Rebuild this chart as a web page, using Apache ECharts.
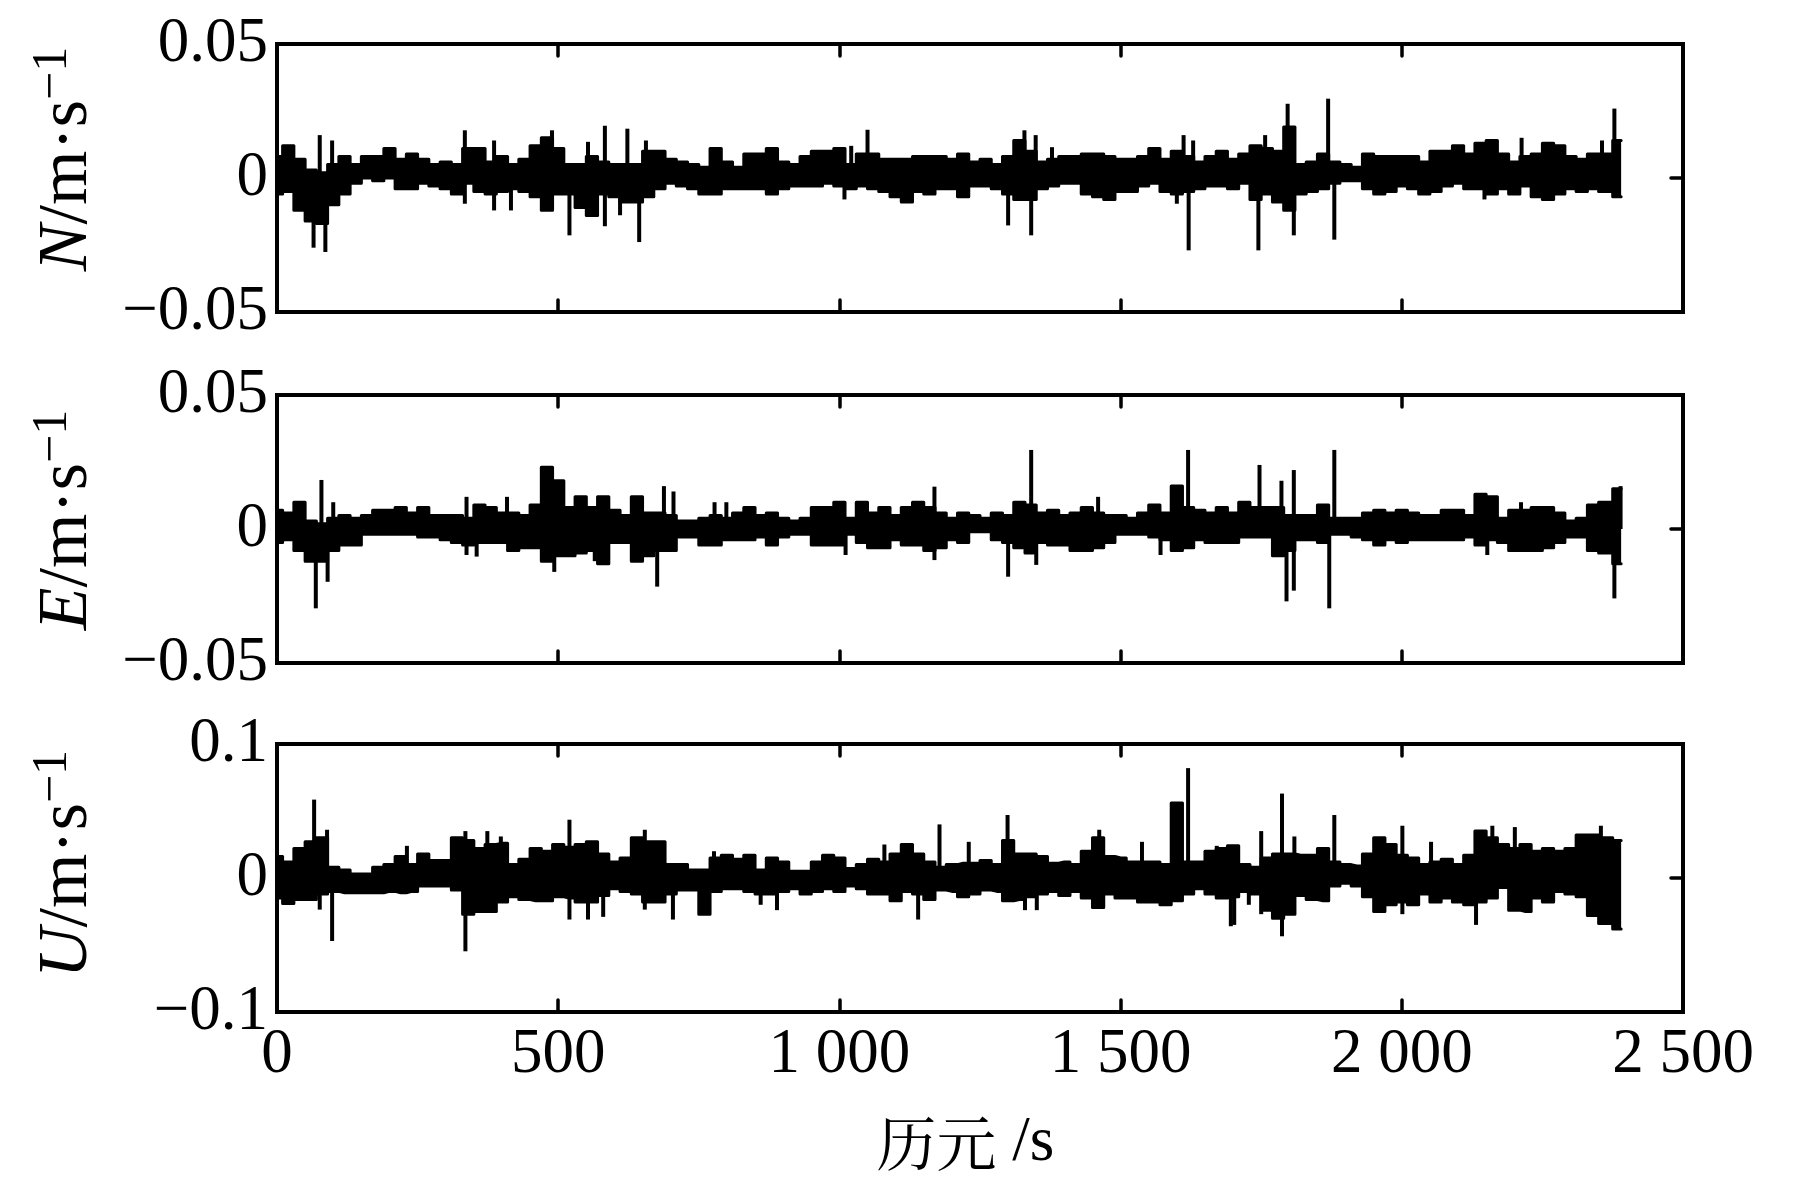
<!DOCTYPE html>
<html><head><meta charset="utf-8">
<script src="https://cdn.jsdelivr.net/npm/echarts@6/dist/echarts.min.js"></script>
<style>html,body{margin:0;padding:0;background:#fff}#c{width:1795px;height:1181px}</style>
</head><body><div id="c"></div>
<script>
// ---- data (epoch bins of 20 s, envelope of the dense trace) ----
const BIN = 20;
const lastEpoch = 2390;

const nHi = [0.008,0.012,0.007,0.003,0.002,0.005,0.008,0.005,0.008,0.008,0.011,0.007,0.009,0.007,0.005,0.006,0.005,0.011,0.011,0.006,
0.008,0.005,0.007,0.012,0.015,0.011,0.005,0.005,0.008,0.006,0.005,0.005,0.005,0.010,0.010,0.007,0.006,0.005,0.004,0.011,
0.006,0.004,0.009,0.009,0.011,0.006,0.005,0.008,0.010,0.010,0.011,0.005,0.009,0.009,0.007,0.007,0.007,0.008,0.008,0.008,
0.007,0.009,0.006,0.007,0.005,0.008,0.014,0.010,0.006,0.007,0.008,0.008,0.009,0.009,0.008,0.007,0.007,0.008,0.011,0.007,
0.010,0.008,0.006,0.008,0.010,0.007,0.009,0.012,0.011,0.010,0.019,0.005,0.006,0.009,0.006,0.005,0.004,0.009,0.008,0.008,
0.008,0.008,0.006,0.010,0.010,0.012,0.009,0.013,0.014,0.009,0.006,0.008,0.009,0.013,0.012,0.008,0.007,0.009,0.009,0.014];
const nLo = [-0.006,-0.005,-0.012,-0.016,-0.017,-0.010,-0.006,-0.002,0.000,-0.001,0.000,-0.004,-0.004,-0.002,-0.003,-0.004,-0.006,-0.002,-0.005,-0.006,
-0.005,-0.004,-0.005,-0.007,-0.012,-0.006,-0.006,-0.011,-0.014,-0.006,-0.007,-0.009,-0.009,-0.007,-0.004,-0.002,-0.003,-0.004,-0.006,-0.006,
-0.004,-0.004,-0.004,-0.004,-0.006,-0.004,-0.003,-0.003,-0.003,-0.002,-0.003,-0.004,-0.003,-0.004,-0.005,-0.007,-0.009,-0.005,-0.006,-0.004,
-0.004,-0.007,-0.003,-0.003,-0.004,-0.006,-0.008,-0.008,-0.004,-0.003,-0.002,-0.002,-0.006,-0.007,-0.008,-0.005,-0.005,-0.003,-0.002,-0.005,
-0.006,-0.005,-0.004,-0.003,-0.003,-0.004,-0.002,-0.008,-0.006,-0.009,-0.012,-0.006,-0.005,-0.004,-0.002,-0.001,-0.001,-0.004,-0.006,-0.005,
-0.003,-0.004,-0.006,-0.005,-0.003,-0.002,-0.004,-0.004,-0.006,-0.004,-0.006,-0.003,-0.007,-0.008,-0.006,-0.004,-0.005,-0.004,-0.005,-0.007];
const nSpikes = [[65,-0.026],[76,0.016],[86,-0.0276],[98,0.014],[334,0.0178],[334,-0.0096],[386,0.014],[386,-0.0121],[416,-0.0121],
[489,0.0178],[520,-0.0214],[553,0.0135],[583,0.0195],[583,-0.018],[610,-0.0139],[623,0.0184],[644,-0.0239],[656,0.014],
[1009,-0.008],[1021,0.012],[1050,0.018],[1300,-0.0177],[1329,0.0178],[1341,-0.0214],[1349,0.016],[1378,0.0115],
[1600,-0.0096],[1612,0.016],[1621,-0.027],[1629,0.014],[1745,-0.027],[1757,0.016],[1797,0.0277],[1808,-0.0214],
[1869,0.0296],[1880,-0.023],[2147,-0.008],[2213,0.015],[2356,0.014],[2378,0.0259]];

const eHi = [0.007,0.006,0.010,0.003,0.002,0.004,0.005,0.004,0.005,0.007,0.007,0.008,0.006,0.008,0.005,0.005,0.005,0.004,0.009,0.008,
0.006,0.006,0.005,0.009,0.023,0.018,0.008,0.012,0.008,0.012,0.007,0.005,0.012,0.006,0.006,0.005,0.003,0.003,0.004,0.005,
0.004,0.006,0.008,0.005,0.006,0.004,0.003,0.004,0.008,0.008,0.010,0.004,0.010,0.006,0.008,0.005,0.008,0.010,0.008,0.006,
0.004,0.006,0.005,0.004,0.006,0.005,0.010,0.009,0.006,0.007,0.005,0.006,0.008,0.006,0.005,0.005,0.004,0.006,0.009,0.006,
0.016,0.008,0.007,0.006,0.008,0.006,0.010,0.008,0.008,0.008,0.005,0.005,0.005,0.009,0.004,0.004,0.004,0.006,0.007,0.006,
0.007,0.006,0.005,0.005,0.007,0.007,0.005,0.013,0.012,0.004,0.007,0.007,0.008,0.008,0.006,0.003,0.004,0.009,0.010,0.015];
const eLo = [-0.005,-0.004,-0.008,-0.012,-0.012,-0.008,-0.006,-0.006,-0.002,-0.002,-0.002,-0.002,-0.002,-0.003,-0.003,-0.004,-0.005,-0.006,-0.005,-0.005,
-0.005,-0.008,-0.007,-0.007,-0.012,-0.010,-0.010,-0.009,-0.008,-0.013,-0.005,-0.005,-0.012,-0.010,-0.008,-0.008,-0.003,-0.003,-0.006,-0.006,
-0.004,-0.004,-0.004,-0.003,-0.006,-0.003,-0.002,-0.002,-0.006,-0.006,-0.006,-0.002,-0.005,-0.007,-0.007,-0.004,-0.006,-0.006,-0.008,-0.007,
-0.004,-0.005,-0.001,-0.001,-0.004,-0.005,-0.007,-0.009,-0.005,-0.006,-0.006,-0.008,-0.008,-0.007,-0.005,-0.002,-0.002,-0.002,-0.003,-0.004,
-0.008,-0.007,-0.004,-0.005,-0.005,-0.005,-0.003,-0.003,-0.003,-0.010,-0.008,-0.004,-0.004,-0.005,-0.002,-0.002,-0.003,-0.004,-0.006,-0.004,
-0.005,-0.004,-0.004,-0.004,-0.004,-0.004,-0.003,-0.006,-0.004,-0.005,-0.008,-0.008,-0.008,-0.007,-0.005,-0.003,-0.003,-0.008,-0.009,-0.013];
const eSpikes = [[69,-0.0296],[79,0.0183],[90,-0.0197],[100,0.010],[337,0.012],[337,-0.0097],[355,-0.0103],[409,0.012],
[493,-0.016],[565,-0.012],[676,-0.0215],[688,0.016],[705,0.014],[778,0.010],[799,0.010],[1011,-0.0097],[1169,0.0158],
[1169,-0.0116],[1300,-0.0178],[1341,0.0295],[1350,-0.0134],[1460,0.012],[1571,-0.0097],[1620,0.0295],[1747,0.0239],
[1786,0.018],[1795,-0.027],[1808,0.022],[1808,-0.023],[1871,-0.0296],[1880,0.0295],[2152,-0.0097],[2212,0.010],
[2378,-0.0259],[2389,0.016]];

const uHi = [0.016,0.012,0.022,0.027,0.030,0.008,0.006,0.003,0.003,0.008,0.010,0.016,0.010,0.018,0.013,0.013,0.030,0.028,0.022,0.025,
0.026,0.010,0.014,0.022,0.020,0.025,0.023,0.025,0.027,0.018,0.012,0.015,0.030,0.027,0.027,0.010,0.010,0.006,0.006,0.015,
0.017,0.014,0.017,0.006,0.015,0.012,0.005,0.005,0.012,0.017,0.015,0.007,0.010,0.014,0.012,0.018,0.025,0.018,0.012,0.008,
0.010,0.011,0.011,0.013,0.010,0.028,0.018,0.018,0.016,0.011,0.012,0.010,0.020,0.030,0.016,0.015,0.012,0.012,0.012,0.010,
0.056,0.012,0.012,0.020,0.022,0.024,0.010,0.008,0.015,0.018,0.018,0.017,0.017,0.022,0.012,0.010,0.009,0.018,0.030,0.025,
0.017,0.015,0.010,0.012,0.014,0.010,0.017,0.035,0.030,0.025,0.022,0.025,0.020,0.022,0.020,0.022,0.032,0.032,0.030,0.028];
const uLo = [-0.015,-0.019,-0.016,-0.016,-0.012,-0.010,-0.011,-0.011,-0.011,-0.011,-0.010,-0.011,-0.010,-0.006,-0.006,-0.006,-0.009,-0.027,-0.025,-0.025,
-0.018,-0.014,-0.016,-0.017,-0.017,-0.014,-0.015,-0.018,-0.018,-0.013,-0.008,-0.010,-0.012,-0.018,-0.018,-0.012,-0.009,-0.009,-0.027,-0.010,
-0.008,-0.008,-0.010,-0.012,-0.012,-0.010,-0.008,-0.012,-0.010,-0.008,-0.010,-0.006,-0.008,-0.012,-0.012,-0.017,-0.010,-0.012,-0.016,-0.009,
-0.010,-0.014,-0.012,-0.009,-0.010,-0.017,-0.016,-0.014,-0.012,-0.010,-0.013,-0.010,-0.015,-0.022,-0.012,-0.015,-0.015,-0.018,-0.018,-0.020,
-0.017,-0.012,-0.008,-0.012,-0.015,-0.014,-0.010,-0.012,-0.024,-0.030,-0.027,-0.013,-0.016,-0.017,-0.006,-0.004,-0.006,-0.014,-0.025,-0.020,
-0.018,-0.020,-0.012,-0.018,-0.015,-0.018,-0.020,-0.018,-0.015,-0.007,-0.024,-0.025,-0.015,-0.018,-0.010,-0.012,-0.014,-0.028,-0.034,-0.038];
const uSpikes = [[66,0.0585],[76,-0.0236],[89,0.036],[98,-0.047],[231,0.024],[335,-0.0547],[335,0.035],[374,0.035],[398,0.031],
[520,0.0435],[520,-0.031],[553,-0.031],[580,-0.029],[654,0.036],[654,-0.0236],[704,-0.031],[777,0.020],[860,-0.020],
[889,-0.024],[1080,0.025],[1140,-0.031],[1178,0.040],[1230,0.027],[1299,0.047],[1330,-0.024],[1351,-0.024],[1462,0.036],
[1538,0.027],[1620,0.082],[1671,0.024],[1696,-0.036],[1702,-0.035],[1728,-0.020],[1750,0.035],[1750,-0.027],[1787,0.063],
[1787,-0.0435],[1809,0.031],[1880,0.047],[2001,0.039],[2001,-0.027],[2052,0.027],[2132,-0.035],[2161,0.039],[2201,0.038],[2354,0.039]];

const panels = [
  { letter: 'N', hi: nHi, lo: nLo, spikes: nSpikes, min: -0.05, max: 0.05, step: 0.05, shift: 38 },
  { letter: 'E', hi: eHi, lo: eLo, spikes: eSpikes, min: -0.05, max: 0.05, step: 0.05, shift: 18 },
  { letter: 'U', hi: uHi, lo: uLo, spikes: uSpikes, min: -0.1, max: 0.1, step: 0.1, shift: 28 }
];
const xTitle = '历元';
const xUnit = ' /s';

// ---- layout / style ----
const GRID_TOPS = [44, 395, 744];
const GRID_H = 268;
const SERIF = '"Liberation Serif", "Times New Roman", serif';
const TICK_FS = 63;

const fmtY = v => {
  const r = Number(v.toFixed(4));
  if (r === 0) return '0';
  return r < 0 ? '\u2212' + String(-r) : String(r);
};
const fmtX = v => v >= 1000 ? Math.floor(v / 1000) + ' ' + String(v % 1000).padStart(3, '0') : String(v);

const grid = [], xAxis = [], yAxis = [], series = [];
panels.forEach((p, g) => {
  grid.push({ left: 277, width: 1406, top: GRID_TOPS[g], height: GRID_H, show: true,
    borderColor: '#000', borderWidth: 4, backgroundColor: 'transparent' });
  const tick = { inside: true, length: 12, lineStyle: { color: '#000', width: 3.5, cap: 'round' } };
  const noLine = { show: false, onZero: false };
  const isLast = g === panels.length - 1;
  xAxis.push({
    gridIndex: g, type: 'value', min: 0, max: 2500, interval: 500, position: 'bottom',
    axisLine: noLine, axisTick: tick, splitLine: { show: false },
    axisLabel: { show: isLast, fontFamily: SERIF, fontSize: TICK_FS, color: '#000', margin: 12, formatter: fmtX },
    name: isLast ? '{c|' + xTitle + '}{l|' + xUnit + '}' : '',
    nameLocation: 'middle', nameGap: 100,
    nameTextStyle: { padding: [0, 29, 0, 0], color: '#000',
      rich: { c: { fontFamily: '"Noto Serif CJK SC", "Noto Sans CJK SC"', fontSize: 60, color: '#000' },
              l: { fontFamily: SERIF, fontSize: 63, color: '#000' } } }
  });
  xAxis.push({
    gridIndex: g, type: 'value', min: 0, max: 2500, interval: 500, position: 'top',
    axisLine: noLine, axisTick: tick, splitLine: { show: false }, axisLabel: { show: false }
  });
  yAxis.push({
    gridIndex: g, type: 'value', min: p.min, max: p.max, interval: p.step, position: 'left',
    axisLine: noLine, axisTick: tick, splitLine: { show: false },
    axisLabel: { fontFamily: SERIF, fontSize: TICK_FS, color: '#000', margin: 9, formatter: fmtY },
    name: '{i|' + p.letter + '}{r|/m\u00b7s}{s|\u22121}',
    nameLocation: 'middle', nameRotate: 90, nameGap: 169,
    nameTextStyle: { padding: [0, 0, 0, p.shift], color: '#000',
      rich: {
        i: { fontFamily: SERIF, fontStyle: 'italic', fontSize: 70, lineHeight: 80, color: '#000' },
        r: { fontFamily: SERIF, fontSize: 70, lineHeight: 80, color: '#000' },
        s: { fontFamily: SERIF, fontSize: 50, lineHeight: 56, verticalAlign: 'top', color: '#000' }
      } }
  });
  yAxis.push({
    gridIndex: g, type: 'value', min: p.min, max: p.max, interval: p.step, position: 'right',
    axisLine: noLine, axisTick: tick, splitLine: { show: false }, axisLabel: { show: false }
  });
  const epochs = p.hi.map((_, i) => i === p.hi.length - 1 ? lastEpoch : i * BIN);
  const line = { color: '#000', width: 3, join: 'round', cap: 'round' };
  // upper envelope, filled down to zero
  series.push({
    type: 'line', xAxisIndex: g * 2, yAxisIndex: g * 2, step: 'middle', symbol: 'none', silent: true,
    lineStyle: line, areaStyle: { color: '#000', opacity: 1, origin: 0 },
    data: epochs.map((t, i) => [t, p.hi[i]])
  });
  // lower envelope, filled up to zero
  series.push({
    type: 'line', xAxisIndex: g * 2, yAxisIndex: g * 2, step: 'middle', symbol: 'none', silent: true,
    lineStyle: line, areaStyle: { color: '#000', opacity: 1, origin: 0 },
    data: epochs.map((t, i) => [t, p.lo[i]])
  });
  // isolated spikes
  series.push({
    type: 'bar', xAxisIndex: g * 2, yAxisIndex: g * 2, barWidth: 4, silent: true,
    itemStyle: { color: '#000' }, data: p.spikes
  });
});

const chart = echarts.init(document.getElementById('c'), null, { renderer: 'canvas' });
chart.setOption({ animation: false, backgroundColor: '#fff', grid, xAxis, yAxis, series });
</script>
</body></html>
